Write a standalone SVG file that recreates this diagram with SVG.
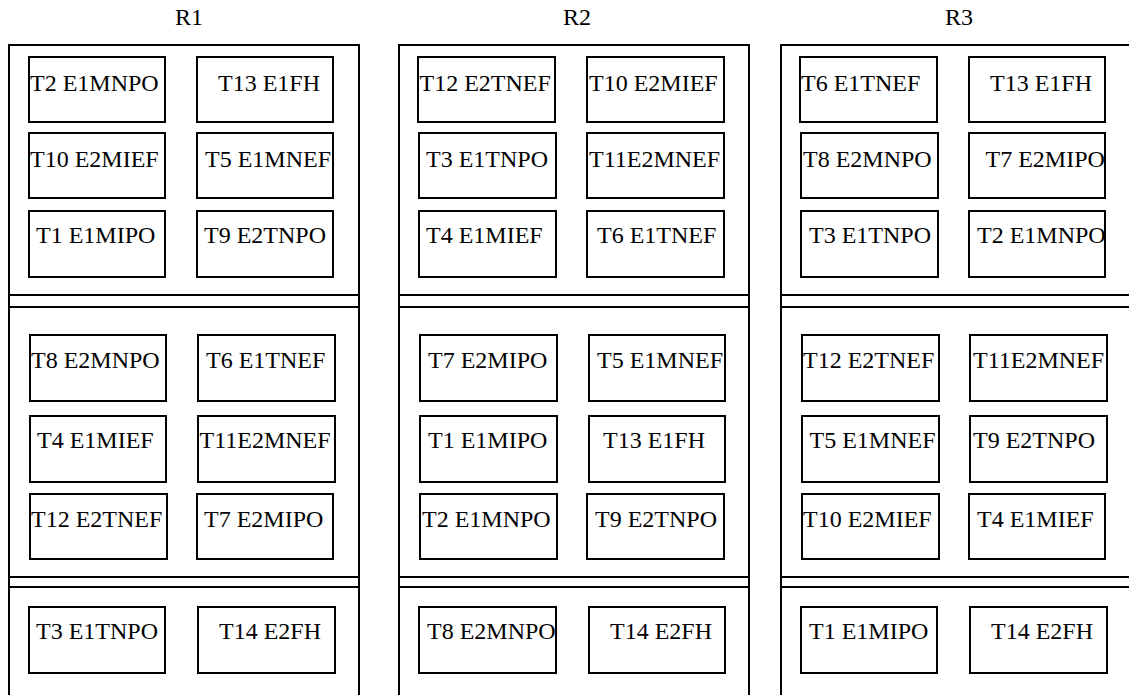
<svg xmlns="http://www.w3.org/2000/svg" width="1129" height="695" viewBox="0 0 1129 695">
<style>
  .frame{fill:none;stroke:#000;stroke-width:2}
  .sep{stroke:#000;stroke-width:2}
  .box{fill:#fff;stroke:#000;stroke-width:2}
  text{font-family:"Liberation Serif","Times New Roman",serif;font-size:24px;fill:#000}
</style>
<rect width="1129" height="695" fill="#fff"/>
<g id="titles">
  <text x="175" y="25">R1</text>
  <text x="563" y="25">R2</text>
  <text x="945" y="25">R3</text>
</g>
<g id="frames">
  <rect class="frame" x="9" y="45" width="350" height="660"/>
  <rect class="frame" x="399" y="45" width="350" height="660"/>
  <rect class="frame" x="781" y="45" width="352" height="660"/>
</g>
<g id="connectors">
  <line class="sep" x1="9" y1="295" x2="359" y2="295"/>
  <line class="sep" x1="9" y1="307" x2="359" y2="307"/>
  <line class="sep" x1="9" y1="577" x2="359" y2="577"/>
  <line class="sep" x1="9" y1="587" x2="359" y2="587"/>
  <line class="sep" x1="399" y1="295" x2="749" y2="295"/>
  <line class="sep" x1="399" y1="307" x2="749" y2="307"/>
  <line class="sep" x1="399" y1="577" x2="749" y2="577"/>
  <line class="sep" x1="399" y1="587" x2="749" y2="587"/>
  <line class="sep" x1="781" y1="295" x2="1133" y2="295"/>
  <line class="sep" x1="781" y1="307" x2="1133" y2="307"/>
  <line class="sep" x1="781" y1="577" x2="1133" y2="577"/>
  <line class="sep" x1="781" y1="587" x2="1133" y2="587"/>
</g>
<!-- R1 -->
<g id="r1-t2"><rect class="box" x="29" y="57" width="136" height="65"/><text x="30" y="91">T2 E1MNPO</text></g>
<g id="r1-t13"><rect class="box" x="197" y="57" width="136" height="65"/><text x="218" y="91">T13 E1FH</text></g>
<g id="r1-t10"><rect class="box" x="29" y="133" width="136" height="65"/><text x="30" y="167">T10 E2MIEF</text></g>
<g id="r1-t5"><rect class="box" x="197" y="133" width="136" height="65"/><text x="205" y="167">T5 E1MNEF</text></g>
<g id="r1-t1"><rect class="box" x="29" y="211" width="136" height="66"/><text x="36" y="243">T1 E1MIPO</text></g>
<g id="r1-t9"><rect class="box" x="197" y="211" width="136" height="66"/><text x="204" y="243">T9 E2TNPO</text></g>
<g id="r1-t8"><rect class="box" x="30" y="335" width="136" height="66"/><text x="31" y="368">T8 E2MNPO</text></g>
<g id="r1-t6"><rect class="box" x="198" y="335" width="137" height="66"/><text x="206" y="368">T6 E1TNEF</text></g>
<g id="r1-t4"><rect class="box" x="30" y="416" width="136" height="66"/><text x="37" y="448">T4 E1MIEF</text></g>
<g id="r1-t11"><rect class="box" x="198" y="416" width="137" height="66"/><text x="199.5" y="448">T11E2MNEF</text></g>
<g id="r1-t12"><rect class="box" x="30" y="494" width="137" height="65"/><text x="31" y="527">T12 E2TNEF</text></g>
<g id="r1-t7"><rect class="box" x="197" y="494" width="136" height="65"/><text x="204" y="527">T7 E2MIPO</text></g>
<g id="r1-t3"><rect class="box" x="29" y="607" width="136" height="66"/><text x="36" y="639">T3 E1TNPO</text></g>
<g id="r1-t14"><rect class="box" x="198" y="607" width="137" height="66"/><text x="219" y="639">T14 E2FH</text></g>
<!-- R2 -->
<g id="r2-t12"><rect class="box" x="418" y="57" width="137" height="65"/><text x="419.5" y="91">T12 E2TNEF</text></g>
<g id="r2-t10"><rect class="box" x="587" y="57" width="137" height="65"/><text x="589" y="91">T10 E2MIEF</text></g>
<g id="r2-t3"><rect class="box" x="419" y="133" width="137" height="65"/><text x="426" y="167">T3 E1TNPO</text></g>
<g id="r2-t11"><rect class="box" x="587" y="133" width="137" height="65"/><text x="589" y="167">T11E2MNEF</text></g>
<g id="r2-t4"><rect class="box" x="419" y="211" width="137" height="66"/><text x="426" y="243">T4 E1MIEF</text></g>
<g id="r2-t6"><rect class="box" x="587" y="211" width="137" height="66"/><text x="597" y="243">T6 E1TNEF</text></g>
<g id="r2-t7"><rect class="box" x="420" y="335" width="137" height="66"/><text x="428" y="368">T7 E2MIPO</text></g>
<g id="r2-t5"><rect class="box" x="589" y="335" width="136" height="66"/><text x="597" y="368">T5 E1MNEF</text></g>
<g id="r2-t1"><rect class="box" x="420" y="416" width="137" height="66"/><text x="428" y="448">T1 E1MIPO</text></g>
<g id="r2-t13"><rect class="box" x="589" y="416" width="136" height="66"/><text x="603" y="448">T13 E1FH</text></g>
<g id="r2-t2"><rect class="box" x="420" y="494" width="137" height="65"/><text x="422" y="527">T2 E1MNPO</text></g>
<g id="r2-t9"><rect class="box" x="587" y="494" width="137" height="65"/><text x="595" y="527">T9 E2TNPO</text></g>
<g id="r2-t8"><rect class="box" x="419" y="607" width="137" height="66"/><text x="427" y="639">T8 E2MNPO</text></g>
<g id="r2-t14"><rect class="box" x="589" y="607" width="136" height="66"/><text x="610" y="639">T14 E2FH</text></g>
<!-- R3 -->
<g id="r3-t6"><rect class="box" x="800" y="57" width="137" height="65"/><text x="801" y="91">T6 E1TNEF</text></g>
<g id="r3-t13"><rect class="box" x="969" y="57" width="136" height="65"/><text x="990" y="91">T13 E1FH</text></g>
<g id="r3-t8"><rect class="box" x="801" y="133" width="137" height="65"/><text x="803" y="167">T8 E2MNPO</text></g>
<g id="r3-t7"><rect class="box" x="969" y="133" width="136" height="65"/><text x="985.5" y="167">T7 E2MIPO</text></g>
<g id="r3-t3"><rect class="box" x="801" y="211" width="137" height="66"/><text x="809" y="243">T3 E1TNPO</text></g>
<g id="r3-t2"><rect class="box" x="969" y="211" width="136" height="66"/><text x="977" y="243">T2 E1MNPO</text></g>
<g id="r3-t12"><rect class="box" x="802" y="335" width="137" height="66"/><text x="803" y="368">T12 E2TNEF</text></g>
<g id="r3-t11"><rect class="box" x="970" y="335" width="137" height="66"/><text x="973" y="368">T11E2MNEF</text></g>
<g id="r3-t5"><rect class="box" x="802" y="416" width="137" height="66"/><text x="809.5" y="448">T5 E1MNEF</text></g>
<g id="r3-t9"><rect class="box" x="970" y="416" width="137" height="66"/><text x="973" y="448">T9 E2TNPO</text></g>
<g id="r3-t10"><rect class="box" x="802" y="494" width="137" height="65"/><text x="803" y="527">T10 E2MIEF</text></g>
<g id="r3-t4"><rect class="box" x="969" y="494" width="136" height="65"/><text x="977" y="527">T4 E1MIEF</text></g>
<g id="r3-t1"><rect class="box" x="801" y="607" width="136" height="66"/><text x="809" y="639">T1 E1MIPO</text></g>
<g id="r3-t14"><rect class="box" x="970" y="607" width="137" height="66"/><text x="991" y="639">T14 E2FH</text></g>
</svg>
